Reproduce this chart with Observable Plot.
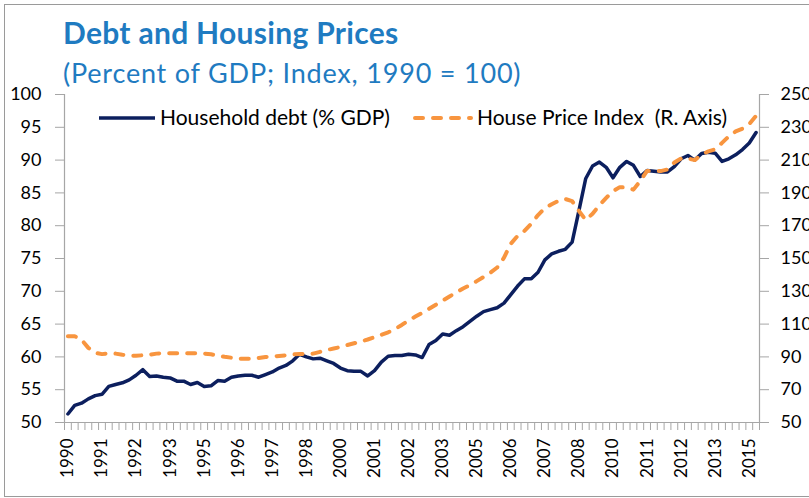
<!DOCTYPE html>
<html><head><meta charset="utf-8">
<script src="https://cdn.jsdelivr.net/npm/d3@7"></script>
<script src="https://cdn.jsdelivr.net/npm/@observablehq/plot@0.6"></script>
<style>
body{margin:0;background:#fff;}
#wrap{position:relative;width:809px;height:498px;overflow:hidden;font-family:Lato,sans-serif;}
#frame{position:absolute;left:4px;top:4px;width:900px;height:493px;border:1.5px solid #9a9a9a;box-sizing:border-box;}
#chart{position:absolute;left:0;top:0;}
.t{position:absolute;white-space:pre;color:#1f7bc1;}
#title{left:63px;top:17px;font-size:30px;line-height:30px;font-weight:700;letter-spacing:0.3px;}
#subtitle{left:63px;top:59px;font-size:27px;line-height:27px;letter-spacing:0.8px;}
.leg{position:absolute;white-space:pre;font-size:21px;line-height:21px;color:#000;top:106px;}
.sw{position:absolute;top:113px;}
</style></head>
<body>
<div id="wrap">
  <div id="frame"></div>
  <div id="chart"></div>
  <div class="t" id="title">Debt and Housing Prices</div>
  <div class="t" id="subtitle">(Percent of GDP; Index, 1990 = 100)</div>
  <svg class="sw" style="left:99px" width="56" height="10"><line x1="0" x2="56" y1="5" y2="5" stroke="#0c1f5e" stroke-width="3.5"/></svg>
  <div class="leg" style="left:160px">Household debt (% GDP)</div>
  <svg class="sw" style="left:413px" width="60" height="10"><line x1="2" x2="58" y1="5" y2="5" stroke="#f8953f" stroke-width="4" stroke-linecap="round" stroke-dasharray="8,10"/></svg>
  <div class="leg" style="left:477px">House Price Index  (R. Axis)</div>
</div>
<script>
// x-axis labels (one every 5 quarters, starting 1990Q1)
const yearLabels = ["1990","1991","1992","1993","1995","1996","1997","1998","2000","2001","2002","2003","2005","2006","2007","2008","2010","2011","2012","2013","2015"];
const quartersPerLabel = 5;
const leftTicks = [50,55,60,65,70,75,80,85,90,95,100];
const rightTicks = [50,70,90,110,130,150,170,190,210,230,250];

// Household debt (% GDP), quarterly 1990Q1 - 2015Q2
const debt = [51.3,52.6,52.95,53.6,54.1,54.3,55.5,55.8,56.05,56.5,
57.2,58.05,57.0,57.1,56.9,56.8,56.3,56.3,55.8,56.1,
55.5,55.6,56.4,56.3,56.9,57.1,57.2,57.2,56.9,57.3,
57.7,58.3,58.7,59.4,60.4,60.0,59.7,59.8,59.4,59.0,
58.3,57.9,57.8,57.8,57.1,57.9,59.2,60.1,60.2,60.2,
60.4,60.3,59.9,61.9,62.5,63.5,63.3,64.0,64.6,65.4,
66.2,66.9,67.2,67.5,68.2,69.5,70.8,71.9,71.9,72.9,
74.8,75.7,76.1,76.4,77.5,82.3,87.2,89.1,89.7,88.9,
87.3,88.9,89.8,89.2,87.5,88.4,88.3,88.2,88.2,89.0,
90.2,90.7,90.0,91.0,91.2,91.05,89.8,90.2,90.8,91.6,
92.6,94.2];

// House Price Index (1990 = 100), right axis
const hpi = [102.6,102.6,100.5,95.5,92.5,91.7,92.2,92.0,91.3,90.8,
90.7,91.0,91.3,92.0,92.3,92.3,92.3,92.3,92.3,92.3,
92.0,91.6,90.8,90.1,89.5,89.0,88.8,88.8,89.3,89.9,
90.2,90.6,91.0,91.5,91.8,91.9,92.0,93.1,94.2,95.1,
96.0,97.2,98.3,99.4,100.6,102.0,103.5,105.0,107.0,109.5,
112.3,114.6,116.8,119.3,121.8,124.3,126.8,129.3,131.7,133.8,
136.2,138.7,141.3,144.5,150.5,159.0,163.8,166.8,171.2,176.5,
180.7,183.1,185.2,186.3,185.0,179.0,173.5,177.3,182.5,187.0,
191.0,193.5,193.3,192.0,197.3,203.4,203.3,203.3,204.3,208.5,
211.0,211.0,210.0,213.5,215.3,216.6,220.5,224.5,227.5,229.2,
232.0,237.0];

// map right-axis values onto the left scale (50↔50, 250↔100)
const r0 = rightTicks[0], r1 = rightTicks[rightTicks.length-1];
const l0 = leftTicks[0], l1 = leftTicks[leftTicks.length-1];
const toLeft = r => l0 + (r - r0) * (l1 - l0) / (r1 - r0);

const rows = debt.map((d, i) => ({i, debt: d, hpi: toLeft(hpi[i])}));
const n = debt.length;
const labelPos = yearLabels.map((_, k) => k * quartersPerLabel);
const boundaries = d3.range(-0.5, n, 1);
const rightPos = rightTicks.map(toLeft);

const gray = "#a6a6a6";
const chart = Plot.plot({
  width: 809, height: 498,
  marginLeft: 64, marginRight: 50, marginTop: 94, marginBottom: 76,
  x: {domain: [-0.5, n - 0.5]},
  y: {domain: [l0, l1]},
  style: {fontFamily: "Lato, sans-serif", fontSize: "18px", color: "#000", background: "transparent"},
  marks: [
    Plot.ruleX([-0.5, n - 0.5], {stroke: gray, strokeWidth: 1.2}),
    Plot.ruleY([l0], {stroke: gray, strokeWidth: 1.2}),
    Plot.axisY(leftTicks, {anchor: "left", tickSize: 9, tickPadding: 14, stroke: gray, fill: "#000", fontSize: 18, label: null}),
    Plot.axisY(rightPos, {anchor: "right", tickSize: 9, tickPadding: 12, stroke: gray, fill: "#000", fontSize: 18, label: null,
      tickFormat: d => String(rightTicks[rightPos.indexOf(d)])}),
    Plot.axisX(boundaries, {anchor: "bottom", tickSize: 8, stroke: gray, tickFormat: () => "", label: null}),
    Plot.axisX(labelPos, {anchor: "bottom", tickSize: 0, tickPadding: 16, tickRotate: -90, fill: "#000", fontSize: 17, label: null,
      tickFormat: d => yearLabels[labelPos.indexOf(d)]}),
    Plot.line(rows, {x: "i", y: "debt", stroke: "#0c1f5e", strokeWidth: 3.5, strokeLinejoin: "round"}),
    Plot.line(rows, {x: "i", y: "hpi", stroke: "#f8953f", strokeWidth: 4, strokeLinecap: "round", strokeLinejoin: "round", strokeDasharray: "8,10"})
  ]
});
document.getElementById("chart").appendChild(chart);
</script>
</body></html>
